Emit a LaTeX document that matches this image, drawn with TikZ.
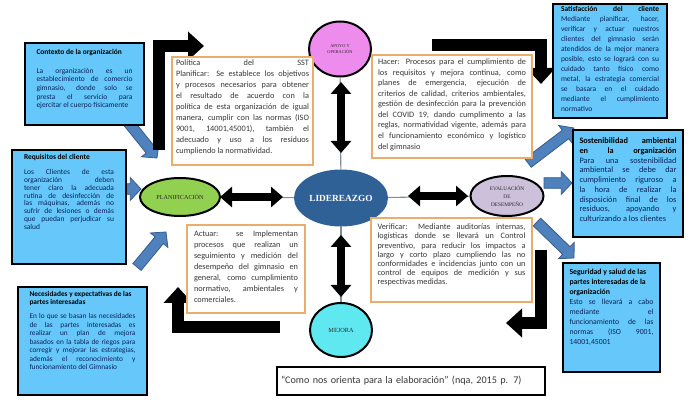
\documentclass[tikz,border=0pt]{standalone}
\usepackage{fontspec}
\setmainfont{Carlito}
\newfontfamily\stagefont{Liberation Serif}
\usepackage{xcolor}
\usetikzlibrary{calc,arrows.meta,shapes.geometric}

\definecolor{skyfill}{RGB}{102,199,250}
\definecolor{navytext}{RGB}{10,35,90}
\definecolor{tanline}{RGB}{236,172,108}
\definecolor{greytext}{RGB}{55,55,55}
\definecolor{planfill}{RGB}{146,208,80}
\definecolor{liderfill}{RGB}{47,97,150}
\definecolor{evalfill}{RGB}{204,192,218}
\definecolor{apoyofill}{RGB}{238,140,238}
\definecolor{mejorafill}{RGB}{95,232,240}
\definecolor{arrowfill}{RGB}{79,129,189}
\definecolor{arrowline}{RGB}{56,93,138}
\definecolor{linkgrey}{RGB}{127,140,155}
\definecolor{stagetext}{RGB}{45,40,40}

\newcommand{\boxtitle}[1]{{\color{black}\bfseries #1}}
% block arrow from #1 to #2
\newcommand{\fatarrow}[2]{%
  \coordinate (neck) at ($(#2)!8pt!(#1)$);
  \draw[bluearrow] ($(#1)!4pt!90:(#2)$) -- ($(neck)!4pt!90:(#2)$) -- ($(neck)!8.5pt!90:(#2)$) -- (#2)
    -- ($(neck)!8.5pt!-90:(#2)$) -- ($(neck)!4pt!-90:(#2)$) -- ($(#1)!4pt!-90:(#2)$) -- cycle;
}

\begin{document}
\begin{tikzpicture}[x=0.75pt,y=0.75pt,yscale=-1,xscale=1,
  infobox/.style={draw=black,line width=1.5pt,fill=skyfill,text=navytext,inner sep=0pt},
  notebox/.style={draw=tanline,line width=1.4pt,fill=white,text=greytext,inner sep=0pt},
  stage/.style={ellipse,draw=black,line width=1.5pt,inner sep=0pt,align=center,text=stagetext},
  link/.style={draw=linkgrey,line width=0.8pt},
  twoway/.style={line width=6pt,{Triangle[width=15pt,length=9pt]}-{Triangle[width=15pt,length=9pt]}},
  turn/.style={line width=9pt,line join=miter,-{Triangle[width=21pt,length=12pt]}},
  bluearrow/.style={fill=arrowfill,draw=arrowline,line width=0.6pt}]

\fill[white] (0,0) rectangle (690,416);
\useasboundingbox (0,0) rectangle (690,416);

%Free ends of the arrows
\coordinate (ctx-tail) at (128,122);
\coordinate (ctx-tip) at (157,158);
\coordinate (req-tail) at (122,189);
\coordinate (req-tip) at (141,189);
\coordinate (nec-tail) at (137,267);
\coordinate (nec-tip) at (166,232);
\coordinate (hac-tail) at (528,163);
\coordinate (hac-tip) at (574,128);
\coordinate (sos-tail) at (544,183);
\coordinate (sos-tip) at (572,183);
\coordinate (seg-tail) at (537,222);
\coordinate (seg-tip) at (574,258);
\coordinate (tl-start) at (159,150);
\coordinate (tl-end) at (204,46);
\coordinate (tr-start) at (432,45);
\coordinate (tr-end) at (541,84);
\coordinate (br-start) at (541,250);
\coordinate (br-end) at (506,323);
\coordinate (bl-start) at (280,327);
\coordinate (bl-end) at (178,287);
\coordinate (ap-a) at (341,82);
\coordinate (ap-b) at (341,153);
\coordinate (pl-a) at (220,197);
\coordinate (pl-b) at (283,197);
\coordinate (ev-a) at (408,196);
\coordinate (ev-b) at (468,196);
\coordinate (me-a) at (341,235);
\coordinate (me-b) at (341,297);

%Block Arrows
\fatarrow{ctx-tail}{ctx-tip}
\fatarrow{req-tail}{req-tip}
\fatarrow{nec-tail}{nec-tip}
\fatarrow{hac-tail}{hac-tip}
\fatarrow{sos-tail}{sos-tip}
\fatarrow{seg-tail}{seg-tip}

%Bent Arrows
\draw[turn] (tl-start) |- (tl-end);
\draw[turn] (tr-start) -| (tr-end);
\draw[turn] (br-start) |- (br-end);
\draw[turn] (bl-start) -| (bl-end);

%Shape: Ellipse
\node[stage,fill=planfill,minimum width=60pt,minimum height=28.5pt,font={\stagefont\fontsize{4.6}{5.5}\selectfont}] (plan) at (180,197) {PLANIFICACIÓN};
%Shape: Ellipse
\node[stage,draw=liderfill,fill=liderfill,text=white,minimum width=69pt,minimum height=41.25pt,font={\stagefont\bfseries\fontsize{7}{8}\selectfont}] (lider) at (341,198) {LIDEREAZGO};
%Shape: Ellipse
\node[stage,fill=evalfill,minimum width=54.75pt,minimum height=30pt,font={\stagefont\fontsize{4}{6}\selectfont}] (eval) at (507,196) {EVALUACIÓN\\DE\\DESEMPEÑO};
%Shape: Ellipse
\node[stage,fill=apoyofill,minimum width=46.5pt,minimum height=41.25pt,font={\stagefont\fontsize{3.3}{5}\selectfont}] (apoyo) at (340,49) {APOYO Y\\OPERACIÓN};
%Shape: Ellipse
\node[stage,fill=mejorafill,minimum width=46.5pt,minimum height=40.5pt,font={\stagefont\fontsize{4.7}{5.5}\selectfont}] (mejora) at (341,330) {MEJORA};

%Straight Lines
\draw[link] (apoyo) -- (lider);
\draw[link] (plan) -- (lider);
\draw[link] (lider) -- (eval);
\draw[link] (lider) -- (mejora);
\draw[twoway] (ap-a) -- (ap-b);
\draw[twoway] (pl-a) -- (pl-b);
\draw[twoway] (ev-a) -- (ev-b);
\draw[twoway] (me-a) -- (me-b);

% Text Node
\node[infobox,minimum width=89.25pt,minimum height=61.5pt,font=\fontsize{5.6}{6.4}\selectfont] (ctx) at (84.5,84)
  {\parbox[c][52.5pt][t]{72pt}{\boxtitle{Contexto de la organización}\par\vspace{8pt}La organización es un\linebreak establecimiento de comercio\linebreak gimnasio, donde solo se\linebreak presta el servicio para\linebreak ejercitar el cuerpo físicamente}};
% Text Node
\node[infobox,minimum width=85.5pt,minimum height=85.5pt,font=\fontsize{5.6}{5.8}\selectfont] (req) at (69,207)
  {\parbox[c][79.5pt][t]{67.5pt}{\boxtitle{Requisitos del cliente}\par\vspace{6pt}Los Clientes de esta\linebreak organización deben\linebreak tener claro la adecuada\linebreak rutina de desinfección de\linebreak las máquinas, además no\linebreak sufrir de lesiones o demás\linebreak que puedan perjudicar su\linebreak salud}};
% Text Node
\node[infobox,minimum width=96.75pt,minimum height=81pt,font=\fontsize{5.5}{6.4}\selectfont] (nec) at (82.5,341)
  {\parbox[c][75pt][t]{79.5pt}{\boxtitle{Necesidades y expectativas de las\\partes interesadas}\par\vspace{4pt}En lo que se basan las necesidades\linebreak de las partes interesadas es\linebreak realizar un plan de mejora\linebreak basados en la tabla de riegos para\linebreak corregir y mejorar las estrategias,\linebreak además el reconocimiento y\linebreak funcionamiento del Gimnasio}};
% Text Node
\node[infobox,minimum width=85.5pt,minimum height=85.5pt,font=\fontsize{5.6}{7.5}\selectfont] (sat) at (610,61)
  {\parbox[c][82.5pt][t]{73.5pt}{\boxtitle{Satisfacción\hfill del\hfill cliente}\par Mediante planificar, hacer,\linebreak verificar y actuar nuestros\linebreak clientes del gimnasio serán\linebreak atendidos de la mejor manera\linebreak posible, esto se logrará con su\linebreak cuidado tanto físico como\linebreak metal, la estrategia comercial\linebreak se basara en el cuidado\linebreak mediante el cumplimiento\linebreak normativo}};
% Text Node
\node[infobox,minimum width=82.5pt,minimum height=80.25pt,font=\fontsize{6.2}{7.3}\selectfont] (sos) at (628,183.5)
  {\parbox[c][68.25pt][t]{72.75pt}{\boxtitle{Sostenibilidad ambiental\linebreak en\hfill la\hfill organización}\par Para una sostenibilidad\linebreak ambiental se debe dar\linebreak cumplimiento riguroso a\linebreak la hora de realizar la\linebreak disposición final de los\linebreak residuos, apoyando y\linebreak culturizando a los clientes}};
% Text Node
\node[infobox,minimum width=72.75pt,minimum height=81.75pt,font=\fontsize{5.8}{7.5}\selectfont] (seg) at (611.5,317.5)
  {\parbox[c][72.75pt][t]{63pt}{\boxtitle{Seguridad y salud de las\\partes interesadas de la\\organización}\par Esto se llevará a cabo\linebreak mediante\hfill el\linebreak funcionamiento de las\linebreak normas (ISO 9001,\linebreak 14001,45001}};
% Text Node
\node[notebox,minimum width=105.75pt,minimum height=81pt,font=\fontsize{6.2}{8.25}\selectfont] (pol) at (242.5,111)
  {\parbox[c][76.5pt][t]{99.75pt}{Política\hfill del\hfill SST\linebreak Planificar: Se establece los objetivos\linebreak y procesos necesarios para obtener\linebreak el resultado de acuerdo con la\linebreak política de esta organización de igual\linebreak manera, cumplir con las normas (ISO\linebreak 9001, 14001,45001), también el\linebreak adecuado y uso a los residuos\linebreak cumpliendo la normatividad.}};
% Text Node
\node[notebox,minimum width=120pt,minimum height=77.25pt,font=\fontsize{6.2}{7.9}\selectfont] (hac) at (452,106.5)
  {\parbox[c][71.25pt][t]{111pt}{Hacer: Procesos para el cumplimiento de\linebreak los requisitos y mejora continua, como\linebreak planes de emergencia, ejecución de\linebreak criterios de calidad, criterios ambientales,\linebreak gestión de desinfección para la prevención\linebreak del COVID 19, dando cumplimento a las\linebreak reglas, normatividad vigente, además para\linebreak el funcionamiento económico y logístico\linebreak del gimnasio}};
% Text Node
\node[notebox,minimum width=88.5pt,minimum height=66pt,font=\fontsize{6.2}{8.25}\selectfont] (act) at (246,269)
  {\parbox[c][57pt][t]{78pt}{Actuar: se Implementan\linebreak procesos que realizan un\linebreak seguimiento y medición del\linebreak desempeño del gimnasio en\linebreak general, como cumplimiento\linebreak normativo, ambientales y\linebreak comerciales.}};
% Text Node
\node[notebox,minimum width=120.75pt,minimum height=63pt,font=\fontsize{6.2}{6.9}\selectfont] (ver) at (451.5,260)
  {\parbox[c][54pt][t]{111pt}{Verificar: Mediante auditorías internas,\linebreak logísticas donde se llevará un Control\linebreak preventivo, para reducir los impactos a\linebreak largo y corto plazo cumpliendo las no\linebreak conformidades e incidencias junto con un\linebreak control de equipos de medición y sus\linebreak respectivas medidas.}};
% Text Node
\node[draw=black,line width=0.8pt,fill=white,text=greytext,inner sep=0pt,minimum width=201pt,minimum height=21pt,text width=195pt,align=left,font=\fontsize{7.6}{9}\selectfont] (cite) at (411,381)
  {“Como nos orienta para la elaboración” (nqa, 2015 p. 7)};
\end{tikzpicture}
\end{document}
